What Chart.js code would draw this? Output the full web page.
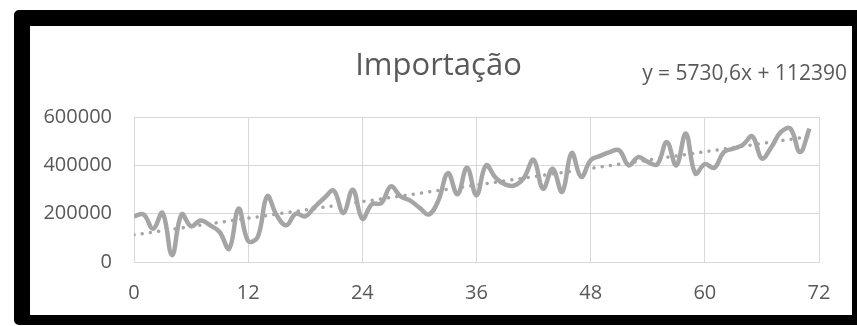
<!DOCTYPE html>
<html>
<head>
<meta charset="utf-8">
<script src="https://cdn.jsdelivr.net/npm/chart.js@4/dist/chart.umd.min.js"></script>
<style>
  html, body { margin: 0; padding: 0; background: #ffffff; }
  body { width: 857px; height: 326px; position: relative; overflow: hidden; }
  #frame {
    position: absolute; left: 14px; top: 10px;
    width: 822px; height: 289px;
    border-style: solid; border-color: #000000;
    border-width: 16px 5px 10px 16px;
    border-radius: 5px 0 0 5px;
    background: #ffffff;
  }
  #chart { display: block; }
</style>
</head>
<body>
<div id="frame"><canvas id="chart" width="822" height="289"></canvas></div>
<script>
// Monthly import values (period index 0..71)
const importacao = [
  189000, 197000, 138000, 203000, 28000, 197000, 148000, 172000, 152000, 124000, 55000, 221000,
  87000, 103000, 272000, 193000, 152000, 200000, 189000, 228000, 265000, 295000, 203000, 299000,
  179000, 239000, 244000, 313000, 272000, 255000, 225000, 197000, 255000, 368000, 280000, 390000,
  276000, 400000, 349000, 321000, 317000, 349000, 423000, 303000, 386000, 290000, 451000, 352000,
  421000, 439000, 455000, 462000, 400000, 434000, 414000, 404000, 497000, 400000, 531000, 366000,
  405000, 390000, 455000, 469000, 485000, 520000, 428000, 476000, 538000, 552000, 455000, 552000
];

// Linear trend as stated by the equation label
const trendSlope = 5730.6;
const trendIntercept = 112390;
const trendRange = [0, 71];

const chartTitle = 'Importação';
const equationText = 'y = 5730,6x + 112390';

const xTicks = [0, 12, 24, 36, 48, 60, 72];
const yTicks = [0, 200000, 400000, 600000];

const textColor = '#595959';
const gridColor = '#d9d9d9';
const lineColor = '#a5a5a5';
const fontFamily = '"Open Sans", "Liberation Sans", sans-serif';

const seriesPoints = importacao.map((v, i) => ({ x: i, y: v }));
const trendPoints = trendRange.map(x => ({ x: x, y: trendSlope * x + trendIntercept }));

// Title and trendline equation text
const headerText = {
  id: 'headerText',
  afterDraw(chart) {
    const ctx = chart.ctx;
    ctx.save();
    ctx.fillStyle = textColor;
    ctx.textBaseline = 'alphabetic';
    ctx.font = '31px ' + fontFamily;
    ctx.textAlign = 'center';
    ctx.fillText(chartTitle, 408.5, 49);
    ctx.font = '21px ' + fontFamily;
    ctx.textAlign = 'right';
    ctx.fillText(equationText, 817, 54);
    ctx.restore();
  }
};

new Chart(document.getElementById('chart'), {
  type: 'line',
  data: {
    datasets: [
      {
        label: 'Importação',
        data: seriesPoints,
        borderColor: lineColor,
        borderWidth: 4.5,
        tension: 0.4,
        pointRadius: 0,
        fill: false,
        order: 2
      },
      {
        label: 'Linear',
        data: trendPoints,
        borderColor: lineColor,
        borderWidth: 3.5,
        borderDash: [0.001, 8.3],
        borderCapStyle: 'round',
        pointRadius: 0,
        fill: false,
        order: 1
      }
    ]
  },
  options: {
    responsive: false,
    animation: false,
    devicePixelRatio: 1,
    layout: { padding: { top: 91, right: 33, bottom: 0, left: 0 } },
    plugins: {
      legend: { display: false },
      title: { display: false },
      tooltip: { enabled: false }
    },
    scales: {
      x: {
        type: 'linear',
        min: 0,
        max: 72,
        afterBuildTicks(scale) { scale.ticks = xTicks.map(v => ({ value: v })); },
        afterFit(scale) { scale.height = 53; },
        grid: { color: gridColor, lineWidth: 1, drawTicks: false },
        border: { display: true, color: gridColor, width: 1 },
        ticks: {
          padding: 19,
          color: textColor,
          font: { family: fontFamily, size: 20 },
          maxRotation: 0,
          callback: v => String(v)
        }
      },
      y: {
        min: 0,
        max: 600000,
        afterBuildTicks(scale) { scale.ticks = yTicks.map(v => ({ value: v })); },
        afterFit(scale) { scale.width = 104; },
        grid: { color: gridColor, lineWidth: 1, drawTicks: false },
        border: { display: true, color: gridColor, width: 1 },
        ticks: {
          padding: 22,
          color: textColor,
          font: { family: fontFamily, size: 20 },
          callback: v => String(v)
        }
      }
    }
  },
  plugins: [headerText]
});
</script>
</body>
</html>
